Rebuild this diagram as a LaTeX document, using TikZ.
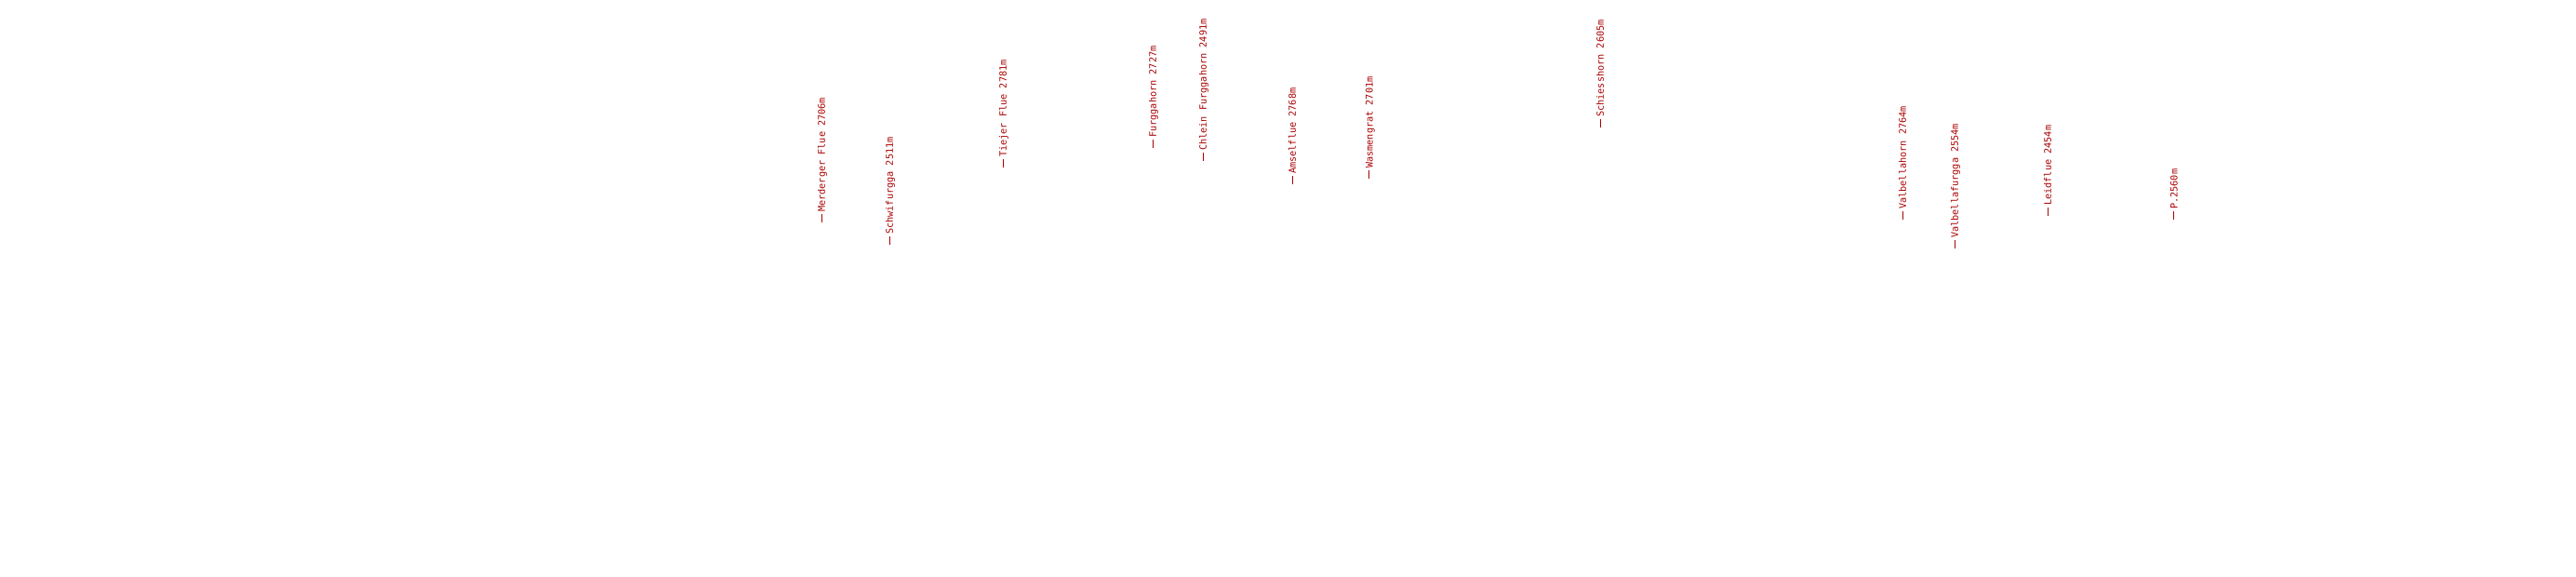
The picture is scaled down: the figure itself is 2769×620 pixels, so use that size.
\documentclass[tikz,border=0pt]{standalone}
\usepackage{fontspec}
\newfontfamily\lblfont{DejaVu Sans Mono}
\definecolor{peakred}{RGB}{170,0,0}
\tikzset{peak/.style={rotate=90, anchor=west, inner sep=0pt, text=peakred,
  font=\lblfont\fontsize{10.2}{12}\selectfont,
  execute at begin node={\rule[0.33em]{9pt}{0.9pt}\hspace{2pt}}}}
\begin{document}
\begin{tikzpicture}[x=1pt,y=-1pt]
\useasboundingbox[fill=white] (0,0) rectangle (2769,620);
\node[peak] (p1) at (884,239) {Merderger Flue 2706m};
\node[peak] (p2) at (957,263) {Schwifurgga 2511m};
\node[peak] (p3) at (1079,180) {Tiejer Flue 2781m};
\node[peak] (p4) at (1240,159) {Furggahorn 2727m};
\node[peak] (p5) at (1294,173) {Chlein Furggahorn 2491m};
\node[peak] (p6) at (1389,198) {Amselflue 2768m};
\node[peak] (p7) at (1473,192) {Wasmengrat 2701m};
\node[peak] (p8) at (1720,137) {Schiesshorn 2605m};
\node[peak] (p9) at (2045,236) {Valbellahorn 2764m};
\node[peak] (p10) at (2102,267) {Valbellafurgga 2554m};
\node[peak] (p11) at (2201,232) {Leidflue 2454m};
\node[peak] (p12) at (2337,236) {P.2560m};
\end{tikzpicture}
\end{document}
